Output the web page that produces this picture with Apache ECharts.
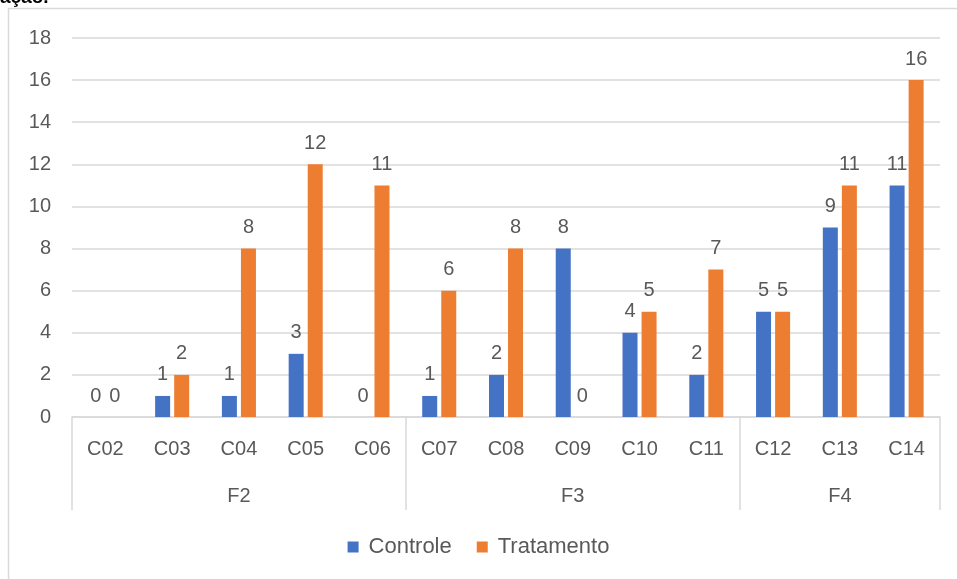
<!DOCTYPE html>
<html>
<head>
<meta charset="utf-8">
<script src="https://cdn.jsdelivr.net/npm/echarts@6/dist/echarts.min.js"></script>
<style>
html,body{margin:0;padding:0;background:#fff;}
#chart{width:957px;height:579px;}
</style>
</head>
<body>
<div id="chart"></div>
<script>
var categories = ['C02','C03','C04','C05','C06','C07','C08','C09','C10','C11','C12','C13','C14'];
var groupNames = ['F2','F3','F4'];
var groupSizes = [5, 5, 3];
var controle = [0, 1, 1, 3, 0, 1, 2, 8, 4, 2, 5, 9, 11];
var tratamento = [0, 2, 8, 12, 11, 6, 8, 0, 5, 7, 5, 11, 16];
var yTicks = [0, 2, 4, 6, 8, 10, 12, 14, 16, 18];

// derive group boundaries and centers
var groupStarts = [], groupCenters = {}, groupOfCat = [];
var acc = 0;
groupSizes.forEach(function (s, gi) {
  groupStarts.push(acc);
  groupCenters[acc + Math.floor(s / 2)] = groupNames[gi];
  for (var k = 0; k < s; k++) groupOfCat.push(groupNames[gi]);
  acc += s;
});

var FONT = 'Liberation Sans';
var FS = 20;
var TXT = '#595959';
var GRID = '#d9d9d9';

var chart = echarts.init(document.getElementById('chart'), null, {renderer: 'canvas'});
chart.setOption({
  animation: false,
  textStyle: {fontFamily: FONT},
  graphic: [
    {type: 'rect', shape: {x: 8.5, y: 8.5, width: 960, height: 600}, style: {fill: 'none', stroke: GRID, lineWidth: 1.5}, z: -1},
    {type: 'text', left: 0, top: -12, style: {text: 'ação.', font: 'bold 19px ' + FONT, fill: '#000'}}
  ],
  grid: {left: 72, right: 17, top: 38, bottom: 162},
  legend: {
    bottom: 16,
    left: 'center',
    itemWidth: 11, itemHeight: 11, itemGap: 25,
    icon: 'rect',
    textStyle: {color: TXT, fontSize: 22, fontFamily: FONT, padding: [0, 0, 0, 5]},
    data: ['Controle', 'Tratamento']
  },
  xAxis: [
    {
      type: 'category',
      data: categories,
      position: 'bottom',
      axisLine: {lineStyle: {color: GRID, width: 1.5}},
      axisTick: {
        show: true,
        length: 93,
        interval: function (i) { return groupStarts.indexOf(i) >= 0; },
        lineStyle: {color: GRID, width: 1.5}
      },
      axisLabel: {color: TXT, fontSize: FS, margin: 22, fontFamily: FONT}
    },
    {
      type: 'category',
      data: groupOfCat,
      position: 'bottom',
      offset: 47,
      axisLine: {show: false},
      axisTick: {show: false},
      axisLabel: {
        color: TXT, fontSize: FS, margin: 22, fontFamily: FONT,
        interval: function (i) { return groupCenters[i] !== undefined; }
      }
    }
  ],
  yAxis: {
    type: 'value',
    min: yTicks[0],
    max: yTicks[yTicks.length - 1],
    interval: yTicks[1] - yTicks[0],
    axisLine: {show: false},
    axisTick: {show: false},
    axisLabel: {color: TXT, fontSize: FS, margin: 21, fontFamily: FONT},
    splitLine: {lineStyle: {color: GRID, width: 1.5}}
  },
  series: [
    {
      name: 'Controle', type: 'bar', data: controle,
      barWidth: 15, barGap: '27%',
      itemStyle: {color: '#4472C4'},
      label: {show: true, position: 'top', color: TXT, fontSize: FS, distance: 11, fontFamily: FONT}
    },
    {
      name: 'Tratamento', type: 'bar', data: tratamento,
      barWidth: 15,
      itemStyle: {color: '#ED7D31'},
      label: {show: true, position: 'top', color: TXT, fontSize: FS, distance: 11, fontFamily: FONT}
    }
  ]
});
</script>
</body>
</html>
